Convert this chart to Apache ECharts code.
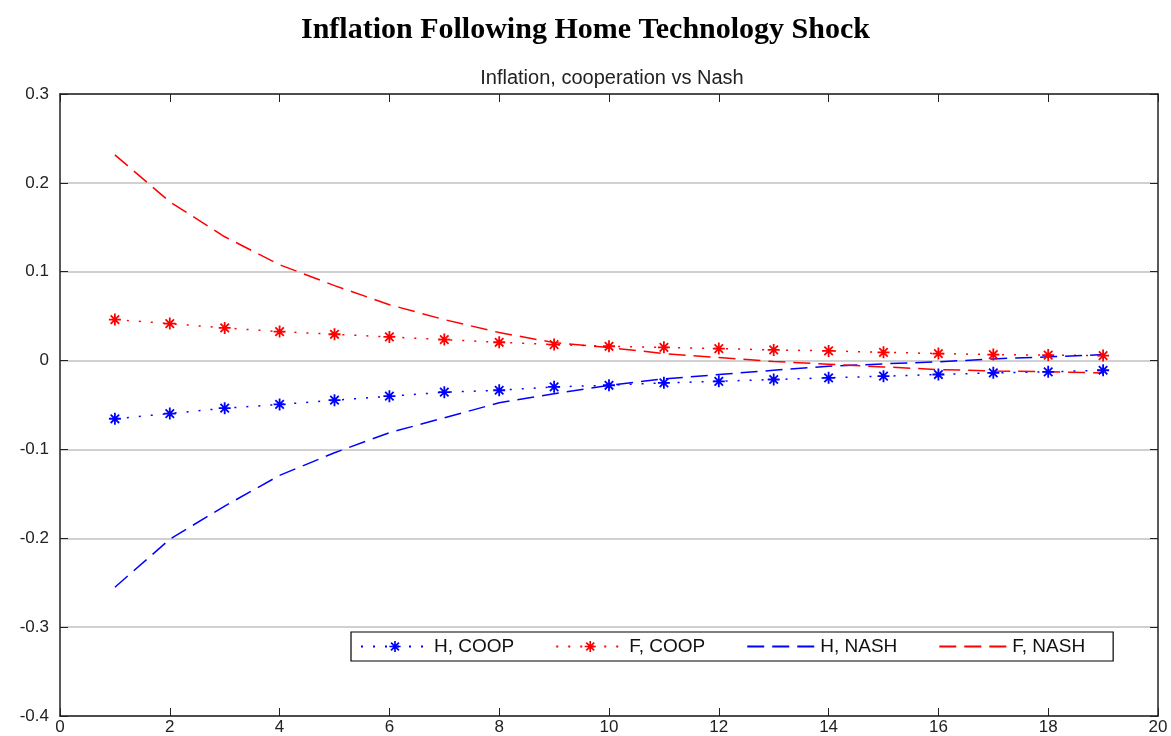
<!DOCTYPE html>
<html>
<head>
<meta charset="utf-8">
<script src="https://cdn.jsdelivr.net/npm/echarts@6/dist/echarts.min.js"></script>
<style>
html,body{margin:0;padding:0;background:#fff;}
#chart{width:1171px;height:736px;}
</style>
</head>
<body>
<div id="chart"></div>
<script>
var periods = [1,2,3,4,5,6,7,8,9,10,11,12,13,14,15,16,17,18,19];
var hCoop = [-0.0655,-0.0596,-0.0536,-0.0494,-0.0446,-0.0401,-0.0356,-0.0334,-0.0296,-0.0278,-0.0251,-0.0233,-0.0213,-0.0194,-0.0176,-0.0157,-0.0138,-0.0127,-0.0109];
var fCoop = [0.0461,0.0416,0.0367,0.0326,0.0296,0.0266,0.0236,0.0206,0.0180,0.0161,0.0149,0.0135,0.0120,0.0109,0.0093,0.0079,0.0067,0.0062,0.0056];
var hNash = [-0.2551,-0.2011,-0.1637,-0.1292,-0.1037,-0.0812,-0.0644,-0.0475,-0.0374,-0.0278,-0.0206,-0.0157,-0.0109,-0.0064,-0.0037,-0.0015,0.0019,0.0042,0.0067];
var fNash = [0.2315,0.1787,0.1393,0.1079,0.0843,0.0629,0.0461,0.0315,0.0202,0.0146,0.0079,0.0034,-0.0011,-0.0041,-0.0071,-0.0101,-0.0116,-0.0127,-0.0139];
var seriesNames = ['H, COOP','F, COOP','H, NASH','F, NASH'];
var mainTitle = 'Inflation Following Home Technology Shock';
var subTitle = 'Inflation, cooperation vs Nash';

function pairs(vals){ return periods.map(function(p,i){ return [p, vals[i]]; }); }

var star = 'path://M-1.5,-10L1.5,-10L1.5,10L-1.5,10Z M-10,-1.5L10,-1.5L10,1.5L-10,1.5Z M-8.1,-6L-6,-8.1L8.1,6L6,8.1Z M6,-8.1L8.1,-6L-6,8.1L-8.1,6Z';
var labelFont = {fontFamily:'Liberation Sans', fontSize:17, color:'#222'};

var chart = echarts.init(document.getElementById('chart'), null, {renderer:'canvas'});
chart.setOption({
  backgroundColor:'#fff',
  animation:false,
  title:[
    {text: mainTitle, left:'center', top:10, textStyle:{fontFamily:'Liberation Serif', fontWeight:'bold', fontSize:30, color:'#000'}},
    {text: subTitle, left:607, textAlign:'center', top:63, textStyle:{fontFamily:'Liberation Sans', fontWeight:'normal', fontSize:20, color:'#222'}}
  ],
  grid:{left:60, right:13, top:94, bottom:19, containLabel:false},
  legend:{
    left:351, top:632, orient:'horizontal',
    data: [
      {name:seriesNames[0]},
      {name:seriesNames[1]},
      {name:seriesNames[2], itemStyle:{opacity:0}},
      {name:seriesNames[3], itemStyle:{opacity:0}}
    ],
    itemWidth:68, itemHeight:14, itemGap:41,
    padding:[5,28,5,9],
    borderColor:'#000', borderWidth:1.2, borderRadius:0,
    backgroundColor:'#fff',
    textStyle:{fontFamily:'Liberation Sans', fontSize:19, color:'#111'}
  },
  xAxis:[
    {type:'value', min:0, max:20, interval:2, position:'bottom',
     axisLine:{show:true, onZero:false, lineStyle:{color:'#222', width:1.5}},
     axisTick:{show:true, inside:true, length:8, lineStyle:{color:'#222'}},
     axisLabel:Object.assign({margin:3}, labelFont),
     splitLine:{show:false}},
    {type:'value', min:0, max:20, interval:2, position:'top',
     axisLine:{show:true, onZero:false, lineStyle:{color:'#222', width:1.5}},
     axisTick:{show:true, inside:true, length:8, lineStyle:{color:'#222'}},
     axisLabel:{show:false}, splitLine:{show:false}}
  ],
  yAxis:[
    {type:'value', min:-0.4, max:0.3, interval:0.1, position:'left',
     axisLine:{show:true, onZero:false, lineStyle:{color:'#222', width:1.5}},
     axisTick:{show:true, inside:true, length:8, lineStyle:{color:'#222'}},
     axisLabel:Object.assign({margin:11, formatter:function(v){ var r = Math.round(v*10)/10; return r===0 ? '0' : r.toFixed(1); }}, labelFont),
     splitLine:{show:true, lineStyle:{color:'#d0d0d0', width:2}}},
    {type:'value', min:-0.4, max:0.3, interval:0.1, position:'right',
     axisLine:{show:true, onZero:false, lineStyle:{color:'#222', width:1.5}},
     axisTick:{show:true, inside:true, length:8, lineStyle:{color:'#222'}},
     axisLabel:{show:false}, splitLine:{show:false}}
  ],
  series:[
    {name:seriesNames[0], type:'line', data:pairs(hCoop), color:'#0000ff',
     symbol:star, symbolSize:12, showAllSymbol:true,
     itemStyle:{color:'#0000ff'},
     lineStyle:{color:'#0000ff', width:1.5, type:[2,10]}},
    {name:seriesNames[1], type:'line', data:pairs(fCoop), color:'#ff0000',
     symbol:star, symbolSize:12, showAllSymbol:true,
     itemStyle:{color:'#ff0000'},
     lineStyle:{color:'#ff0000', width:1.5, type:[2,10]}},
    {name:seriesNames[2], type:'line', data:pairs(hNash), color:'#0000ff',
     symbol:'none',
     lineStyle:{color:'#0000ff', width:1.5, type:[17,8]}},
    {name:seriesNames[3], type:'line', data:pairs(fNash), color:'#ff0000',
     symbol:'none',
     lineStyle:{color:'#ff0000', width:1.5, type:[17,8]}}
  ]
});
</script>
</body>
</html>
